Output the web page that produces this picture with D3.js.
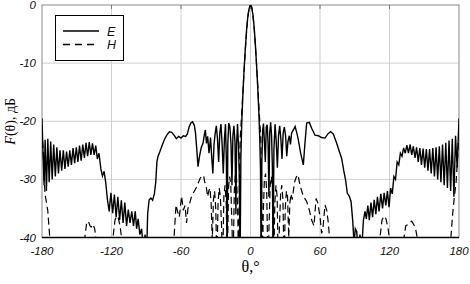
<!DOCTYPE html>
<html>
<head>
  <title>Diagram</title>
  <script src="https://d3js.org/d3.v7.min.js"></script>
  <style>
    body { margin: 0; background: #fff; }
    .tick-label { font-family: "Liberation Sans", Arial, sans-serif; font-style: italic; font-size: 11.5px; fill: #111; }
    .legend-label { font-family: "Liberation Sans", Arial, sans-serif; font-style: italic; font-size: 12.5px; fill: #111; }
  </style>
</head>
<body>
<svg width="470" height="284"></svg>
<script>
  // E-plane pattern, [theta deg, level dB]
  const eCurve = [
    [-180,-19.5],[-179.2,-25],[-178.2,-31],[-177.3,-23.2],[-176.2,-32],[-175,-23],[-173.8,-30.5],[-172.5,-23.5],
    [-171.2,-30],[-169.9,-24],[-168.5,-29.5],[-167.2,-24.5],[-165.8,-29],[-164.5,-25],[-163,-28.5],[-161.6,-25],
    [-160.2,-28.2],[-158.8,-25.2],[-157.4,-27.8],[-156,-25],[-154.6,-27.5],[-153.2,-24.6],[-151.8,-27.2],[-150.4,-24.5],
    [-149,-27],[-147.6,-24.2],[-146.2,-26.8],[-144.8,-24],[-143.4,-26.3],[-142,-23.7],[-140.6,-26],[-139.2,-23.6],
    [-137.8,-25.8],[-136.4,-23.8],[-135,-25.8],[-133.6,-24.2],[-132.2,-26.5],[-130.8,-25.5],[-129.2,-28.2],[-127.8,-29.4],
    [-126.4,-28.6],[-125,-30.5],[-123.5,-33.5],[-122,-35.5],[-120.5,-32.3],[-119,-35.8],[-117.5,-32.6],[-116,-36.5],
    [-114.5,-33],[-113,-37],[-111.5,-33.6],[-110,-37.5],[-108.5,-34],[-107,-38],[-105.5,-35.2],[-104,-37.5],
    [-102.5,-35.5],[-101,-38],[-99.5,-35.5],[-98.3,-38.5],[-97,-36.8],[-95.5,-39.5],[-94,-38.5],[-92.5,-42],
    [-91,-39.5],[-89.8,-44],[-88.8,-36],[-87.5,-33.5],[-86,-33.2],[-84.5,-33.6],[-83,-32.5],[-81.8,-30.5],
    [-80.8,-27],[-79.8,-26],[-78.2,-25.2],[-76,-24],[-74,-23],[-72,-22.3],[-70,-21.8],[-68,-21.9],
    [-66,-22.4],[-64,-23],[-62,-22.6],[-60,-22.9],[-58,-22.5],[-56,-22.6],[-54.5,-22.2],[-53,-21],
    [-51.5,-20.3],[-50,-20.1],[-48.5,-20.7],[-47.5,-22],[-46.5,-24.5],[-45.3,-27.8],[-44,-26],[-42.5,-24.5],
    [-41,-23.8],[-40,-22.5],[-39,-21.5],[-38,-23.8],[-37,-22.6],[-35.8,-25.5],[-34.5,-22.8],[-33.5,-26.1],
    [-32.5,-29],[-31.5,-24],[-30.5,-22.1],[-29.5,-20.8],[-28.5,-23],[-27.5,-27],[-26.5,-22],[-25.5,-20.5],
    [-24.5,-24],[-23.5,-29],[-22.5,-23],[-21.6,-20.5],[-20.8,-27],[-20.2,-45],[-19.6,-24],[-18.8,-20.3],
    [-17.8,-21],[-16.8,-24],[-16,-31],[-15.2,-22.5],[-14.3,-20.8],[-13.4,-23.5],[-12.6,-36],[-12,-24],
    [-11.2,-20.5],[-10.4,-24],[-9.6,-30],[-9,-45],[-8.3,-26],[-7.5,-20],[-6.5,-15],[-5.5,-11],
    [-4.5,-7.6],[-3.5,-4.6],[-2.5,-2.4],[-1.5,-0.9],[-0.5,-0.1],[0.3,0],[1.2,-0.5],[2.2,-1.8],
    [3.2,-3.9],[4.2,-6.8],[5.2,-10.2],[6.2,-14],[7.2,-18.5],[8,-23],[8.6,-28],[9.2,-45],
    [9.8,-27],[10.5,-21.5],[11.2,-20.4],[12,-23.5],[12.8,-27],[13.6,-21],[14.4,-20.6],[15.2,-24],
    [15.9,-33],[16.6,-22],[17.4,-20.2],[18.2,-22.5],[18.9,-28],[19.5,-45],[20.2,-25],[21.2,-20.5],
    [22.2,-23.5],[23.2,-28],[24.2,-22.5],[25.2,-20.8],[26.2,-23],[27.2,-26.5],[28.2,-22],[29.2,-21],
    [30.3,-22.5],[31.3,-26],[32.3,-23.5],[33.5,-22.5],[34.5,-24],[35.5,-22],[37,-21.5],[38.5,-20.9],
    [40,-22],[41.3,-23.2],[43.3,-25.5],[45.6,-27.5],[47,-23.8],[48.5,-20.3],[50.8,-20.2],[52.8,-21.2],
    [55.7,-22.4],[58.6,-22.5],[61.4,-22.8],[64.3,-22.9],[67.2,-22.1],[69.2,-21.8],[71.5,-22.2],[74.4,-23.8],
    [76.7,-25.2],[78.7,-26.4],[80.5,-28.5],[82,-30],[83.6,-32.4],[85.3,-32.9],[86.8,-33.8],[88.2,-37],
    [89.4,-41],[90.5,-38.5],[91.7,-39],[93.1,-43],[94.5,-39.5],[96,-42],[97.5,-37],[98.9,-35.5],
    [100,-36.8],[101.3,-34.5],[102.6,-37],[104,-34],[105.4,-36.5],[106.8,-33.5],[108.2,-36],[109.6,-33],
    [111,-35.5],[112.5,-32.5],[114,-35],[115.4,-32.3],[116.8,-34.5],[118.2,-32],[119.6,-34.8],[121,-31.5],
    [122.4,-32.5],[123.8,-29.5],[125.2,-30],[126.6,-27],[128,-27.5],[129.4,-25.5],[130.8,-26],[132.2,-24.6],
    [133.6,-25.5],[135,-24.1],[136.4,-25.5],[137.8,-24],[139.2,-25.8],[140.6,-24.3],[142,-26.3],[143.4,-24.5],
    [144.8,-27],[146.2,-24.6],[147.6,-27.5],[149,-24.7],[150.4,-28],[151.8,-24.8],[153.2,-28.5],[154.6,-24.8],
    [156,-29],[157.4,-24.6],[158.8,-29.5],[160.2,-24.5],[161.6,-30],[163,-24.3],[164.4,-30.5],[165.8,-24],
    [167.2,-31],[168.6,-23.7],[170,-31.5],[171.4,-23.3],[172.8,-32],[174.2,-23],[175.6,-33],[177,-22.5],
    [178.4,-28],[180,-19.5]
  ];

  // H-plane pattern, [theta deg, level dB] (values below -40 fall off the chart)
  const hCurve = [
    [-180,-21.5],[-179,-25],[-178,-30],[-177.4,-32.5],[-175,-35.4],[-173.3,-40],[-172.5,-50],[-144,-50],
    [-143,-40],[-141.5,-37.6],[-140,-37.2],[-138.5,-38],[-137.5,-38.2],[-136,-37.7],[-134.5,-38.5],[-133,-41],
    [-131,-50],[-120,-50],[-118.7,-40],[-117,-37],[-115.5,-36.3],[-114,-36.7],[-112.5,-38.2],[-111,-40.5],
    [-110,-50],[-68,-50],[-66,-40],[-64.3,-34.4],[-63,-35.5],[-61.5,-36.5],[-59.5,-32.9],[-58,-35.3],
    [-56.5,-34.5],[-55.2,-37.5],[-54,-35],[-53,-34.5],[-51,-33],[-49,-32.2],[-47,-31.5],[-45,-30.6],
    [-43.5,-29.8],[-42,-29.5],[-40.5,-29.3],[-39.5,-30.5],[-38,-31.5],[-37,-33],[-36,-32],[-35,-31.5],
    [-34,-34],[-33,-40.5],[-32,-33.5],[-31,-32],[-30,-35],[-29,-45],[-28,-34],[-27,-31.5],
    [-26,-33],[-25,-38],[-24,-45],[-23,-33],[-22,-31],[-21,-34],[-20,-45],[-19,-31.5],
    [-18,-29.5],[-17,-31],[-16,-38],[-15,-45],[-14,-32],[-13,-29],[-12,-30],[-11,-36],
    [-10.3,-45],[-9.6,-30],[-8.9,-23],[-8,-20],[-7,-16.5],[-6,-13],[-5,-9.5],[-4,-6.3],
    [-3,-3.6],[-2,-1.6],[-1,-0.4],[0,-0.1],[1,-0.4],[2,-1.6],[3,-3.6],[4,-6.3],
    [5,-9.5],[6,-13],[7,-16.5],[8,-20],[8.9,-23],[9.6,-30],[10.3,-45],[11,-36],
    [12,-30],[13,-29],[14,-32],[15,-45],[16,-38],[17,-31],[18,-29.5],[19,-31.5],
    [20,-45],[21,-34],[22,-31],[23,-33],[24,-45],[25,-38],[26,-32.5],[27,-31],
    [28,-33.5],[29,-45],[30,-35],[31,-32],[32,-33],[33,-40],[34,-34],[35,-32.5],
    [36,-33.5],[37,-32],[38,-30.5],[39.5,-29.6],[41,-29.2],[42.7,-31],[45.6,-32.9],[48.5,-33.8],
    [50.8,-35.3],[52.8,-37],[54.8,-38],[56.6,-33.3],[58,-34],[60,-36.4],[61.4,-39.3],[62.5,-38.5],
    [64.3,-34.4],[65.8,-35.3],[67.2,-37.5],[68.6,-41],[70,-50],[110,-50],[111.8,-40],[113.5,-37],
    [115.3,-36.3],[117,-36.8],[118.8,-38.5],[120.4,-41],[122,-50],[131,-50],[132.5,-40],[134,-38],
    [135.4,-37.8],[137,-37.5],[139.1,-37.2],[141,-37.8],[142.5,-38.5],[144.9,-41],[146,-50],[172,-50],
    [173,-40],[174.5,-36],[176,-33],[177.5,-30.5],[178.8,-26],[180,-21.5]
  ];

  const xTicks = [-180, -120, -60, 0, 60, 120, 180];
  const yTicks = [0, -10, -20, -30, -40];
  const legendNames = ["E", "H"];

  const plotLeft = 42, plotRight = 459, plotTop = 5, plotBottom = 237.5;

  const svg = d3.select("svg");

  const x = d3.scaleLinear().domain([-180, 180]).range([plotLeft, plotRight]);
  const y = d3.scaleLinear().domain([-40, 0]).range([plotBottom, plotTop]);

  svg.append("clipPath").attr("id", "plot")
    .append("rect")
    .attr("x", plotLeft).attr("y", plotTop)
    .attr("width", plotRight - plotLeft).attr("height", plotBottom - plotTop);

  // grid
  svg.append("g").selectAll("line")
    .data(xTicks.slice(1, -1))
    .enter().append("line")
    .attr("x1", d => x(d)).attr("x2", d => x(d))
    .attr("y1", plotTop).attr("y2", plotBottom)
    .attr("stroke", "#cfcfcf").attr("stroke-width", 1);

  svg.append("g").selectAll("line")
    .data(yTicks.slice(1, -1))
    .enter().append("line")
    .attr("x1", plotLeft).attr("x2", plotRight)
    .attr("y1", d => y(d)).attr("y2", d => y(d))
    .attr("stroke", "#cfcfcf").attr("stroke-width", 1);

  // frame
  svg.append("rect")
    .attr("x", plotLeft).attr("y", plotTop)
    .attr("width", plotRight - plotLeft).attr("height", plotBottom - plotTop)
    .attr("fill", "none").attr("stroke", "#8a8a8a").attr("stroke-width", 1);

  // small ticks on top edge
  svg.append("g").selectAll("line")
    .data(xTicks.slice(1, -1))
    .enter().append("line")
    .attr("x1", d => x(d)).attr("x2", d => x(d))
    .attr("y1", plotTop).attr("y2", plotTop + 4)
    .attr("stroke", "#777");

  const line = d3.line()
    .x(d => x(d[0]))
    .y(d => y(d[1]));

  const plot = svg.append("g").attr("clip-path", "url(#plot)");

  plot.append("path")
    .datum(hCurve)
    .attr("d", line)
    .attr("fill", "none")
    .attr("stroke", "#000")
    .attr("stroke-width", 1.2)
    .attr("stroke-dasharray", "7,4");

  plot.append("path")
    .datum(eCurve)
    .attr("d", line)
    .attr("fill", "none")
    .attr("stroke", "#000")
    .attr("stroke-width", 1.4);

  // bottom axis line
  svg.append("line")
    .attr("x1", plotLeft).attr("x2", plotRight)
    .attr("y1", plotBottom).attr("y2", plotBottom)
    .attr("stroke", "#000").attr("stroke-width", 1.5);

  // tick labels
  svg.append("g").selectAll("text")
    .data(xTicks)
    .enter().append("text")
    .attr("class", "tick-label")
    .attr("x", d => x(d))
    .attr("y", 255)
    .attr("text-anchor", "middle")
    .text(d => d);

  svg.append("g").selectAll("text")
    .data(yTicks)
    .enter().append("text")
    .attr("class", "tick-label")
    .attr("x", 36)
    .attr("y", d => y(d) + 4)
    .attr("text-anchor", "end")
    .text(d => d);

  // axis titles
  const yTitle = svg.append("text")
    .attr("transform", "translate(15," + ((plotTop + plotBottom) / 2) + ") rotate(-90)")
    .attr("text-anchor", "middle")
    .style("font-family", "'Liberation Serif', 'Times New Roman', serif")
    .style("font-size", "14px");
  yTitle.append("tspan").style("font-style", "italic").text("F");
  yTitle.append("tspan").text("(θ),  дБ");

  svg.append("text")
    .attr("x", x(0))
    .attr("y", 272)
    .attr("text-anchor", "middle")
    .style("font-family", "'Liberation Serif', 'Times New Roman', serif")
    .style("font-size", "16px")
    .text("θ,°");

  // legend
  const legend = svg.append("g");
  legend.append("rect")
    .attr("x", 55.5).attr("y", 15.5)
    .attr("width", 68).attr("height", 45)
    .attr("fill", "#fff").attr("stroke", "#000").attr("stroke-width", 1);

  const items = legend.selectAll("g.item")
    .data(legendNames)
    .enter().append("g")
    .attr("class", "item")
    .attr("transform", (d, i) => "translate(0," + (31 + i * 13.5) + ")");

  items.append("line")
    .attr("x1", 63).attr("x2", 99)
    .attr("y1", 0).attr("y2", 0)
    .attr("stroke", "#000").attr("stroke-width", 1.3)
    .attr("stroke-dasharray", (d, i) => i === 1 ? "7,5" : null);

  items.append("text")
    .attr("class", "legend-label")
    .attr("x", 107).attr("y", 4.5)
    .text(d => d);
</script>
</body>
</html>
